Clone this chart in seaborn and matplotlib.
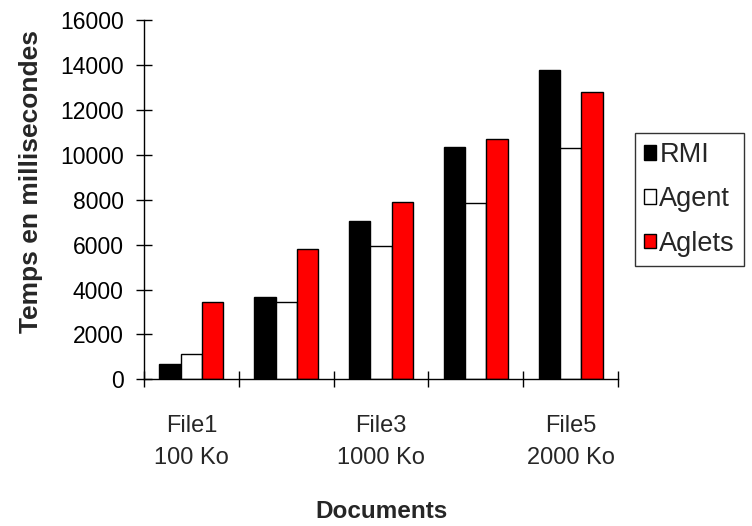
import pandas as pd
import matplotlib
matplotlib.use("Agg")
import matplotlib.pyplot as plt
import seaborn as sns

# values (ms)
documents = ["File1\n100 Ko", "File2", "File3\n1000 Ko", "File4", "File5\n2000 Ko"]
methods = ["RMI", "Agent", "Aglets"]
rmi = [700, 3650, 7050, 10350, 13800]
agent = [1150, 3450, 5950, 7850, 10300]
aglets = [3450, 5800, 7900, 10700, 12800]
colors = ["#000000", "#FFFFFF", "#FF0000"]

data = pd.DataFrame({
    "Document": documents * 3,
    "Methode": ["RMI"] * 5 + ["Agent"] * 5 + ["Aglets"] * 5,
    "Temps": rmi + agent + aglets,
})

sns.set_style("white")
plt.rcParams["font.family"] = ["Liberation Sans", "DejaVu Sans"]

fig = plt.figure(figsize=(7.52, 5.26), dpi=100)
ax = fig.add_axes([0.1915, 0.2789, 0.6303, 0.6823])

sns.barplot(data=data, x="Document", y="Temps", hue="Methode", hue_order=methods,
            palette=colors, saturation=1, width=0.675, edgecolor="black",
            linewidth=1, ax=ax)

ax.set_xlim(-0.5, 4.5)
ax.set_ylim(0, 16000)
ax.set_yticks(range(0, 16001, 2000))
ax.tick_params(axis="y", left=True, labelsize=16.5, direction="inout",
               length=11.5, width=1, pad=9, colors="black")

# labels only under groups 1, 3, 5; tick marks at the group boundaries
ax.set_xticks([0, 2, 4])
ax.set_xticklabels([documents[0], documents[2], documents[4]], fontsize=17,
                   linespacing=1.55)
ax.tick_params(axis="x", which="major", bottom=True, length=0, pad=26)
ax.set_xticks([i - 0.5 for i in range(6)], minor=True)
ax.tick_params(axis="x", which="minor", bottom=True, direction="inout",
               length=11.5, width=1, color="black")

ax.set_xlabel("Documents", fontsize=17.5, fontweight="bold")
ax.set_ylabel("Temps en millisecondes", fontsize=19, fontweight="bold")
ax.xaxis.set_label_coords(0.5, -0.335)
ax.yaxis.set_label_coords(-0.213, 0.55)

for side in ["top", "right"]:
    ax.spines[side].set_visible(False)
for side in ["left", "bottom"]:
    ax.spines[side].set_color("black")
    ax.spines[side].set_linewidth(1)

leg = ax.legend(loc="upper left", bbox_to_anchor=(635 / 752, 1 - 133 / 526),
                bbox_transform=fig.transFigure, fontsize=19.5, frameon=True,
                fancybox=False, borderaxespad=0, borderpad=0.33,
                handlelength=0.45, handleheight=0.45, handletextpad=0.12,
                labelspacing=0.68, title=None)
leg.get_frame().set_edgecolor("black")
leg.get_frame().set_linewidth(1)

fig.savefig("out.png", dpi=100)
